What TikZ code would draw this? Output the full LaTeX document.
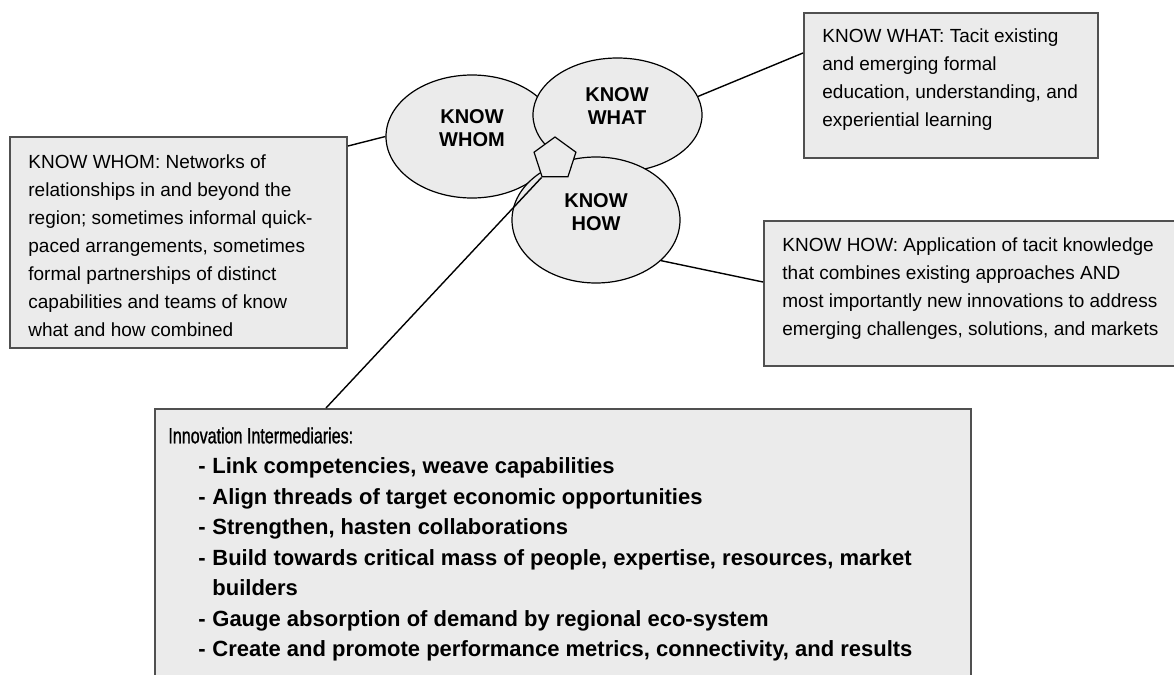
\documentclass[tikz,border=0pt]{standalone}
\usepackage{fontspec}
\setmainfont{Liberation Sans}
\newfontfamily\narrowfont[FakeStretch=0.73,FakeBold=1]{Liberation Sans}
\usepackage{tikz}
\usetikzlibrary{shapes.geometric,calc}
\definecolor{boxgray}{HTML}{EBEBEB}
\definecolor{linegray}{HTML}{505050}

\begin{document}
\begin{tikzpicture}[x=0.5pt,y=-0.5pt,
  infobox/.style={draw=linegray,line width=1pt,fill=boxgray,inner sep=0pt,anchor=north west},
  knowbubble/.style={ellipse,draw=black,line width=0.6pt,fill=boxgray,inner sep=0pt},
  bubbletext/.style={font=\bfseries\fontsize{10}{11.5}\selectfont,align=center,inner sep=0pt},
  infotext/.style={font=\fontsize{9.5}{14}\selectfont,align=left,anchor=north west,inner sep=0pt},
  link/.style={draw=black,line width=0.7pt}]
\useasboundingbox (0,0) rectangle (1174,675);
\clip (0,0) rectangle (1174,675);

\node[infobox,minimum width=168.5pt,minimum height=105.5pt] (whombox) at (9,136) {};
\node[infobox,minimum width=147pt,minimum height=72.5pt] (whatbox) at (803,12) {};
\node[infobox,minimum width=215pt,minimum height=72.5pt] (howbox) at (763,220) {};
\node[infobox,minimum width=408pt,minimum height=150pt] (innobox) at (154,408) {};

\node[infotext] (whomtext) at (28,154) {KNOW WHOM: Networks of\\relationships in and beyond the\\region; sometimes informal quick-\\paced arrangements, sometimes\\formal partnerships of distinct\\capabilities and teams of know\\what and how combined};
\node[infotext] (whattext) at (822,28) {KNOW WHAT: Tacit existing\\and emerging formal\\education, understanding, and\\experiential learning};
\node[infotext] (howtext) at (782,237) {KNOW HOW: Application of tacit knowledge\\that combines existing approaches AND\\most importantly new innovations to address\\emerging challenges, solutions, and markets};
\node[infotext,font=\bfseries\fontsize{11}{15.25}\selectfont] (innotext) at (168,427) {{\narrowfont\mdseries Innovation Intermediaries:}\\
\hspace*{15pt}\makebox[7pt][l]{-}Link competencies, weave capabilities\\
\hspace*{15pt}\makebox[7pt][l]{-}Align threads of target economic opportunities\\
\hspace*{15pt}\makebox[7pt][l]{-}Strengthen, hasten collaborations\\
\hspace*{15pt}\makebox[7pt][l]{-}Build towards critical mass of people, expertise, resources, market\\
\hspace*{22pt}builders\\
\hspace*{15pt}\makebox[7pt][l]{-}Gauge absorption of demand by regional eco-system\\
\hspace*{15pt}\makebox[7pt][l]{-}Create and promote performance metrics, connectivity, and results};

\node[knowbubble,minimum width=86pt,minimum height=61.5pt] (whom) at (472,136.5) {};
\node[knowbubble,minimum width=84.5pt,minimum height=57pt] (what) at (617.5,115) {};
\node[knowbubble,minimum width=84pt,minimum height=63pt] (how) at (596,220) {};
\node[bubbletext] (whomlabel) at (472,128) {KNOW\\WHOM};
\node[bubbletext] (whatlabel) at (617,106) {KNOW\\WHAT};
\node[bubbletext] (howlabel) at (596,212) {KNOW\\HOW};

\draw[link] ([yshift=-5pt]whombox.north east) -- (whom.west);
\draw[link] (what.13) -- ([yshift=-20.5pt]whatbox.north west);
\draw[link] (how.-32) -- ([yshift=-31pt]howbox.north west);

\node[regular polygon,regular polygon sides=5,minimum size=22pt,draw=black,line width=0.6pt,fill=boxgray,inner sep=0pt] (pent) at (555,159) {};
\draw[link] (pent.corner 3) -- ([xshift=86pt]innobox.north west);
\end{tikzpicture}
\end{document}
